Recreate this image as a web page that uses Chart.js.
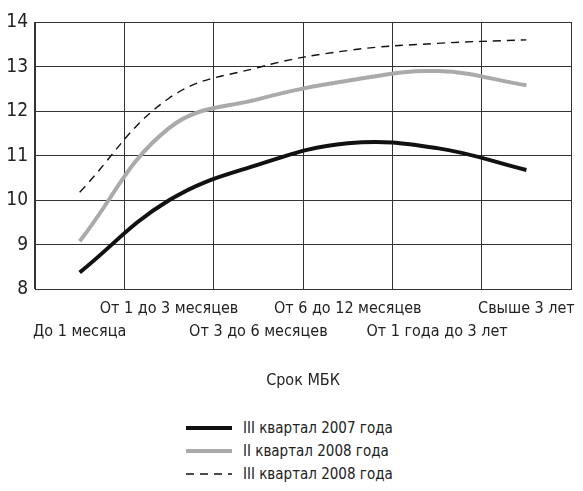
<!DOCTYPE html>
<html>
<head>
<meta charset="utf-8">
<script src="https://cdn.jsdelivr.net/npm/chart.js@4.4.1/dist/chart.umd.min.js"></script>
<style>
  html, body { margin: 0; padding: 0; background: #fff; }
  #wrap { position: relative; width: 583px; height: 491px; }
  #chart { position: absolute; left: 0; top: 0; }
  #legend { position: absolute; left: 186px; top: 416px; font-family: 'Liberation Sans Narrow', 'DejaVu Sans Condensed', sans-serif; font-size: 15px; color: #222; }
  .row { height: 23px; display: flex; align-items: center; }
  .row svg { margin-right: 11px; }
</style>
</head>
<body>
<div id="wrap">
  <canvas id="chart" width="583" height="390"></canvas>
  <div id="legend"></div>
</div>
<script>
// ── DATA ──────────────────────────────────────────────────────
const CATEGORIES = ['До 1 месяца', 'От 1 до 3 месяцев', 'От 3 до 6 месяцев',
                    'От 6 до 12 месяцев', 'От 1 года до 3 лет', 'Свыше 3 лет'];
const Q3_2007 = [8.38, 10.0, 10.8, 11.28, 11.17, 10.68];
const Q2_2008 = [9.08, 11.62, 12.27, 12.68, 12.9, 12.58];
const Q3_2008 = [10.18, 12.29, 12.98, 13.36, 13.52, 13.6];
const Y_TICKS = [8, 9, 10, 11, 12, 13, 14];
const SERIES_NAMES = ['III квартал 2007 года', 'II квартал 2008 года', 'III квартал 2008 года'];
const AXIS_TITLE = 'Срок МБК';

const FONT = "'Liberation Sans Narrow', 'DejaVu Sans Condensed', sans-serif";
const INK  = '#222';
const GRAY = '#aaaaaa';

const datasets = [
  { label: SERIES_NAMES[0], data: Q3_2007, borderColor: '#111', borderWidth: 4, borderDash: [] },
  { label: SERIES_NAMES[1], data: Q2_2008, borderColor: GRAY, borderWidth: 4, borderDash: [] },
  { label: SERIES_NAMES[2], data: Q3_2008, borderColor: '#111', borderWidth: 1.4, borderDash: [8, 6] },
].map(d => Object.assign(d, { tension: 0.4, pointRadius: 0, fill: false, borderCapStyle: 'butt' }));

// draw the dark line on top
const order = [1, 2, 0];
order.forEach((idx, i) => { datasets[idx].order = i; });

new Chart(document.getElementById('chart'), {
  type: 'line',
  data: { labels: CATEGORIES, datasets: datasets },
  options: {
    responsive: false,
    animation: false,
    layout: { padding: { top: 22, right: 3, left: 0, bottom: 0 } },
    plugins: { legend: { display: false }, tooltip: { enabled: false } },
    scales: {
      x: {
        offset: true,
        grid: { offset: true, color: '#333', lineWidth: 1, drawTicks: false },
        border: { color: '#333' },
        ticks: {
          autoSkip: false, maxRotation: 0, padding: 8, color: INK,
          font: { family: FONT, size: 16, lineHeight: 1.45 },
          callback: function (v, i) {
            const t = CATEGORIES[i];
            return i % 2 === 1 ? [t, ''] : ['', t];
          }
        },
        title: {
          display: true, text: AXIS_TITLE, color: INK,
          font: { family: FONT, size: 16 },
          padding: { top: 19, bottom: 0 }
        }
      },
      y: {
        min: 8, max: 14,
        afterFit: s => { s.width = 35; },
        afterBuildTicks: s => { s.ticks = Y_TICKS.map(v => ({ value: v })); },
        grid: { color: '#333', lineWidth: 1, drawTicks: false },
        border: { color: '#333' },
        ticks: { padding: 7, color: INK, font: { family: FONT, size: 19 } }
      }
    }
  }
});

// ── HTML LEGEND ───────────────────────────────────────────────
const legend = document.getElementById('legend');
datasets.forEach(d => {
  const row = document.createElement('div');
  row.className = 'row';
  const dash = d.borderDash.length ? `stroke-dasharray="${d.borderDash.join(' ')}"` : '';
  row.innerHTML = `<svg width="46" height="8"><line x1="0" y1="4" x2="46" y2="4" stroke="${d.borderColor}" stroke-width="${d.borderWidth}" ${dash}/></svg><span>${d.label}</span>`;
  legend.appendChild(row);
});
</script>
</body>
</html>
